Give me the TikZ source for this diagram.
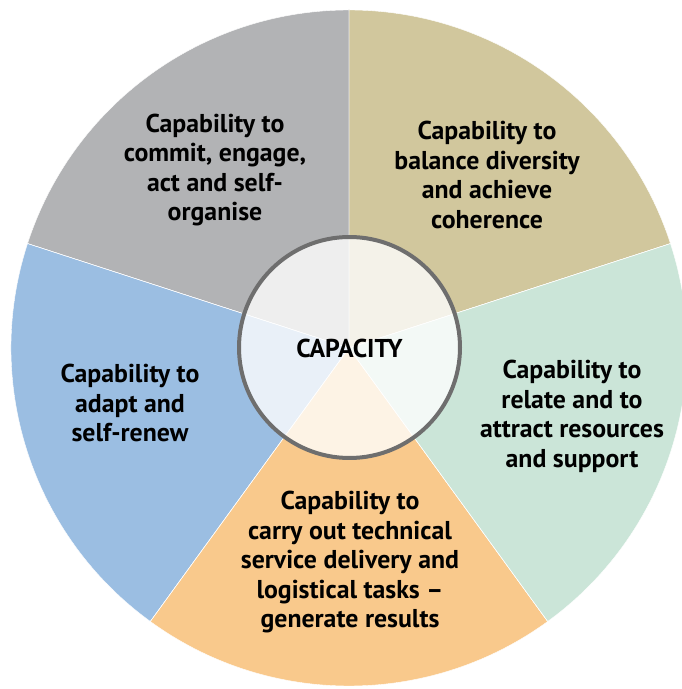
\documentclass[tikz,border=0pt]{standalone}
\usepackage{fontspec}
\setmainfont{PT Sans}
\definecolor{cgray}{HTML}{B2B3B5}
\definecolor{ctan}{HTML}{D1C79D}
\definecolor{cgreen}{HTML}{CBE5D8}
\definecolor{corange}{HTML}{F9C98C}
\definecolor{cblue}{HTML}{9BBEE2}
\definecolor{cring}{HTML}{6E6E6E}
\tikzset{
  lbl/.style={align=center, font=\fontsize{25.8}{29.5}\selectfont\bfseries, text=black, inner sep=0pt},
  sector/.style={draw=white, line width=0.4pt},
}
\begin{document}
\begin{tikzpicture}[x=1pt,y=1pt]
\useasboundingbox (0,0) rectangle (682,689);
\coordinate (C) at (349,341);
\def\R{338pt}
\fill[sector, fill=ctan] (C) -- ++(90:\R) arc[start angle=90, end angle=18, radius=\R] -- cycle;
\fill[sector, fill=cgray] (C) -- ++(162:\R) arc[start angle=162, end angle=90, radius=\R] -- cycle;
\fill[sector, fill=cblue] (C) -- ++(234:\R) arc[start angle=234, end angle=162, radius=\R] -- cycle;
\fill[sector, fill=corange] (C) -- ++(306:\R) arc[start angle=306, end angle=234, radius=\R] -- cycle;
\fill[sector, fill=cgreen] (C) -- ++(18:\R) arc[start angle=18, end angle=-54, radius=\R] -- cycle;
\draw[sector] (C) -- ++(90:\R) (C) -- ++(18:\R) (C) -- ++(-54:\R) (C) -- ++(234:\R) (C) -- ++(162:\R);
\fill[white, opacity=0.78] (349.5,341.5) circle[radius=110.5pt];
\draw[cring, line width=4pt] (349.5,341.5) circle[radius=110.5pt];
\node[lbl] (cap) at (349.5,341) {CAPACITY};
\node[lbl] (commit) at (215,519) {Capability to\\commit, engage,\\act and self-\\organise};
\node[lbl] (balance) at (487,514) {Capability to\\balance diversity\\and achieve\\coherence};
\node[lbl] (relate) at (572,272.5) {Capability to\\relate and to\\attract resources\\and support};
\node[lbl] (carry) at (350,126.5) {Capability to\\carry out technical\\service delivery and\\logistical tasks --\\generate results};
\node[lbl] (adapt) at (130,286) {Capability to\\adapt and\\self-renew};
\end{tikzpicture}
\end{document}
